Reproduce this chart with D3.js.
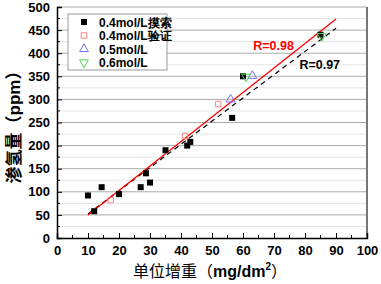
<!DOCTYPE html>
<html>
<head>
<meta charset="utf-8">
<script src="https://cdn.jsdelivr.net/npm/d3@7"></script>
<style>
  body { margin: 0; background: #fff; }
  svg { display: block; }
  text { font-family: "Liberation Sans", Arial, sans-serif; }
</style>
</head>
<body>
<script>
var w = 381;
var h = 284;

// data
var explore = [[10, 92], [12, 58], [14.4, 110], [20, 95], [27, 110], [28.7, 140], [30, 120],
  [35, 190], [42, 200], [43, 208], [56.5, 260], [60, 350], [85, 440]];
var verify = [[17.3, 82], [41.3, 221], [52, 290]];
var mol05 = [[56, 300], [63, 351]];
var mol06 = [[61, 349], [85.4, 437]];
var fitRed = [[10, 50], [90, 474]];
var fitBlack = [[10, 52], [90, 454]];
var xTicks = [0, 10, 20, 30, 40, 50, 60, 70, 80, 90, 100];
var yTicks = [0, 50, 100, 150, 200, 250, 300, 350, 400, 450, 500];
var legendLabels = ["0.4mol/L摸索", "0.4mol/L验证", "0.5mol/L", "0.6mol/L"];

var padL = 57, padR = 367, padT = 7, padB = 238;

var xScale = d3.scaleLinear().domain([0, 100]).range([padL, padR]);
var yScale = d3.scaleLinear().domain([0, 500]).range([padB, padT]);

var svg = d3.select("body").append("svg")
  .attr("width", w)
  .attr("height", h);

svg.append("rect").attr("width", w).attr("height", h).attr("fill", "#fff");

// minor grid lines
svg.selectAll(".minor")
  .data(d3.range(25, 500, 50))
  .enter().append("line")
  .attr("x1", padL).attr("x2", padR)
  .attr("y1", function(d) { return yScale(d); })
  .attr("y2", function(d) { return yScale(d); })
  .attr("stroke", "#e4e4e4")
  .attr("stroke-width", 1);

// major grid lines
svg.selectAll(".major")
  .data(yTicks.slice(1))
  .enter().append("line")
  .attr("x1", padL).attr("x2", padR)
  .attr("y1", function(d) { return yScale(d); })
  .attr("y2", function(d) { return yScale(d); })
  .attr("stroke", "#aaaaaa")
  .attr("stroke-width", 1);

// right border
svg.append("line")
  .attr("x1", padR).attr("x2", padR)
  .attr("y1", padT).attr("y2", padB)
  .attr("stroke", "#777")
  .attr("stroke-width", 2);

// fit lines
var line = d3.line()
  .x(function(d) { return xScale(d[0]); })
  .y(function(d) { return yScale(d[1]); });

svg.append("path")
  .attr("d", line(fitBlack))
  .attr("fill", "none")
  .attr("stroke", "#000")
  .attr("stroke-width", 1.2)
  .attr("stroke-dasharray", "5,4");

svg.append("path")
  .attr("d", line(fitRed))
  .attr("fill", "none")
  .attr("stroke", "#ff0000")
  .attr("stroke-width", 1.3);

// points
var sq = d3.symbol().type(d3.symbolSquare).size(36);
var sqOpen = d3.symbol().type(d3.symbolSquare).size(30);
var tri = d3.symbol().type(d3.symbolTriangle).size(34);

svg.selectAll(".verify")
  .data(verify)
  .enter().append("path")
  .attr("d", sqOpen)
  .attr("transform", function(d) { return "translate(" + xScale(d[0]) + "," + yScale(d[1]) + ")"; })
  .attr("fill", "none")
  .attr("stroke", "#ff8080")
  .attr("stroke-width", 1);

svg.selectAll(".explore")
  .data(explore)
  .enter().append("path")
  .attr("d", sq)
  .attr("transform", function(d) { return "translate(" + xScale(d[0]) + "," + yScale(d[1]) + ")"; })
  .attr("fill", "#000");

svg.selectAll(".m05")
  .data(mol05)
  .enter().append("path")
  .attr("d", tri)
  .attr("transform", function(d) { return "translate(" + xScale(d[0]) + "," + yScale(d[1]) + ")"; })
  .attr("fill", "none")
  .attr("stroke", "#7070ff")
  .attr("stroke-width", 1);

svg.selectAll(".m06")
  .data(mol06)
  .enter().append("path")
  .attr("d", tri)
  .attr("transform", function(d) { return "translate(" + xScale(d[0]) + "," + yScale(d[1]) + ") rotate(180)"; })
  .attr("fill", "none")
  .attr("stroke", "#50d050")
  .attr("stroke-width", 1);

// axes
var xAxis = d3.axisBottom(xScale).tickValues(xTicks).tickSize(-5).tickPadding(8);
var yAxis = d3.axisLeft(yScale).tickValues(yTicks).tickSize(-5).tickPadding(7);

var gx = svg.append("g")
  .attr("transform", "translate(0," + padB + ")")
  .call(xAxis);
var gy = svg.append("g")
  .attr("transform", "translate(" + padL + ",0)")
  .call(yAxis);

// minor ticks
gx.selectAll(".mtick")
  .data(d3.range(5, 100, 10))
  .enter().append("line")
  .attr("x1", function(d) { return xScale(d); })
  .attr("x2", function(d) { return xScale(d); })
  .attr("y1", 0).attr("y2", -3)
  .attr("stroke", "#000");
gy.selectAll(".mtick")
  .data(d3.range(25, 500, 50))
  .enter().append("line")
  .attr("y1", function(d) { return yScale(d); })
  .attr("y2", function(d) { return yScale(d); })
  .attr("x1", 0).attr("x2", 3)
  .attr("stroke", "#000");

[gx, gy].forEach(function(g) {
  g.select(".domain").attr("stroke", "#000").attr("stroke-width", 1.5);
  g.selectAll("text")
    .attr("font-family", "'Liberation Sans', Arial, sans-serif")
    .attr("font-size", 13)
    .attr("font-weight", "bold")
    .attr("fill", "#000");
});

// R labels
svg.append("text")
  .attr("x", xScale(63.3)).attr("y", yScale(408))
  .attr("font-size", 12.5).attr("font-weight", "bold")
  .attr("fill", "#ff0000")
  .text("R=0.98");
svg.append("text")
  .attr("x", xScale(78.2)).attr("y", yScale(365))
  .attr("font-size", 12.5).attr("font-weight", "bold")
  .attr("fill", "#000")
  .text("R=0.97");

// legend
var lg = svg.append("g").attr("transform", "translate(68,14)");
lg.append("rect")
  .attr("width", 99).attr("height", 56)
  .attr("fill", "#fff")
  .attr("stroke", "#999")
  .attr("stroke-width", 1);

var legendItems = lg.selectAll(".item")
  .data(legendLabels)
  .enter().append("g")
  .attr("transform", function(d, i) { return "translate(0," + (8 + i * 13.5) + ")"; });

legendItems.each(function(d, i) {
  var g = d3.select(this);
  if (i === 0) {
    g.append("path").attr("d", sq).attr("transform", "translate(16,0)").attr("fill", "#000");
  } else if (i === 1) {
    g.append("path").attr("d", sqOpen).attr("transform", "translate(16,0)")
      .attr("fill", "none").attr("stroke", "#ff8080");
  } else if (i === 2) {
    g.append("path").attr("d", tri).attr("transform", "translate(16,0)")
      .attr("fill", "none").attr("stroke", "#7070ff");
  } else {
    g.append("path").attr("d", tri).attr("transform", "translate(16,0) rotate(180)")
      .attr("fill", "none").attr("stroke", "#50d050");
  }
  g.append("text")
    .attr("x", 31).attr("y", 4.5)
    .attr("font-size", 12).attr("font-weight", "bold")
    .attr("fill", "#000")
    .text(d);
});

// axis titles
var xt = svg.append("text")
  .attr("x", 210).attr("y", 277)
  .attr("text-anchor", "middle")
  .attr("font-size", 16)
  .attr("fill", "#000");
xt.append("tspan").attr("font-family", "'Noto Sans CJK SC'").text("单位增重（");
xt.append("tspan").attr("font-weight", "bold").text("mg/dm");
xt.append("tspan").attr("font-weight", "bold").attr("font-size", 10).attr("dy", -7).text("2");
xt.append("tspan").attr("font-family", "'Noto Sans CJK SC'").attr("dy", 7).text("）");

var yt = svg.append("text")
  .attr("transform", "translate(20,123) rotate(-90)")
  .attr("text-anchor", "middle")
  .attr("font-size", 17)
  .attr("fill", "#000");
yt.append("tspan").attr("font-family", "'Noto Sans CJK SC'").attr("font-weight", "bold").text("渗氢量（");
yt.append("tspan").attr("font-weight", "bold").text("ppm");
yt.append("tspan").attr("font-family", "'Noto Sans CJK SC'").attr("font-weight", "bold").text("）");
</script>
</body>
</html>
